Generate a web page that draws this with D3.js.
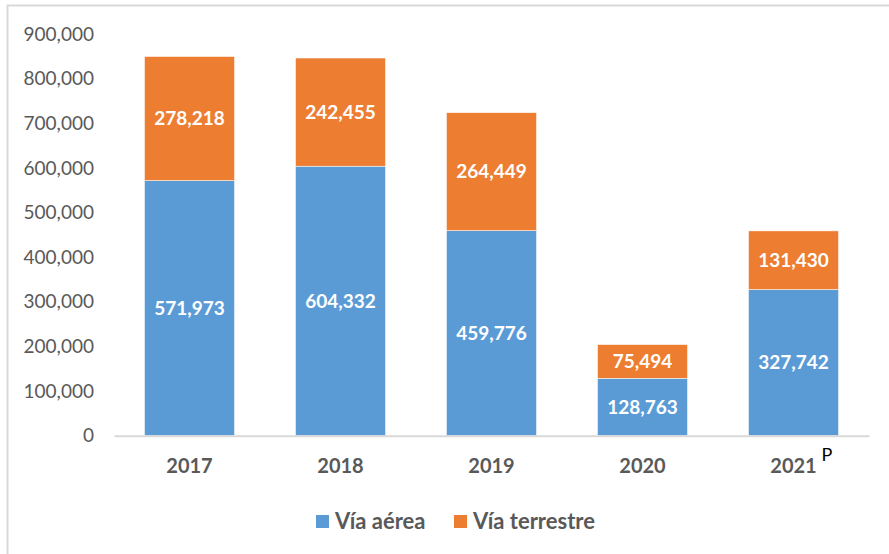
<!DOCTYPE html>
<html>
<head>
<meta charset="utf-8">
<script src="https://cdn.jsdelivr.net/npm/d3@7"></script>
<style>
  body { margin: 0; background: #fff; }
  svg { display: block; font-family: Lato, "Open Sans", sans-serif; }
</style>
</head>
<body>
<div id="chart"></div>
<script>
const years = ["2017", "2018", "2019", "2020", "2021"];
const aerea = [571973, 604332, 459776, 128763, 327742];
const terrestre = [278218, 242455, 264449, 75494, 131430];
const yTicks = [0, 100000, 200000, 300000, 400000, 500000, 600000, 700000, 800000, 900000];
const seriesNames = ["Vía aérea", "Vía terrestre"];
const colors = ["#5B9BD5", "#ED7D31"];

const w = 889, h = 554;
const margin = { top: 34.3, right: 20, bottom: 118.3, left: 114 };
const width = w - margin.left - margin.right;
const height = h - margin.top - margin.bottom;

const svgRoot = d3.select("#chart").append("svg")
  .attr("width", w)
  .attr("height", h);

// outer frame
svgRoot.append("rect")
  .attr("x", 7.5).attr("y", 5.5)
  .attr("width", w + 20).attr("height", h + 20)
  .attr("fill", "none")
  .attr("stroke", "#d9d9d9")
  .attr("stroke-width", 2);

const svg = svgRoot.append("g")
  .attr("transform", `translate(${margin.left},${margin.top})`);

const table = years.map((y, i) => ({ year: y, aerea: aerea[i], terrestre: terrestre[i] }));
const stacked = d3.stack().keys(["aerea", "terrestre"])(table);

const xSc = d3.scaleBand()
  .domain(years)
  .range([0, width])
  .paddingInner(0.404)
  .paddingOuter(0.202);

const ySc = d3.scaleLinear()
  .domain([0, 900000])
  .range([height, 0]);

// y tick labels
svg.append("g")
  .call(d3.axisLeft(ySc).tickValues(yTicks).tickSize(0).tickPadding(20)
    .tickFormat(d => d3.format(",")(d)))
  .call(g => g.select(".domain").remove())
  .call(g => g.selectAll("text")
    .attr("fill", "#595959")
    .style("font-size", "19px")
    .style("font-family", "Lato, sans-serif"));

// bars
const layers = svg.selectAll(".layer")
  .data(stacked)
  .join("g")
    .attr("class", "layer")
    .attr("fill", (d, i) => colors[i]);

layers.selectAll("rect")
  .data(d => d)
  .join("rect")
    .attr("x", d => xSc(d.data.year))
    .attr("y", d => ySc(d[1]))
    .attr("width", xSc.bandwidth())
    .attr("height", d => ySc(d[0]) - ySc(d[1]))
    .attr("stroke", "#fff")
    .attr("stroke-width", 0.5);

// data labels
layers.selectAll("text")
  .data(d => d)
  .join("text")
    .attr("x", d => xSc(d.data.year) + xSc.bandwidth() / 2)
    .attr("y", d => ySc((d[0] + d[1]) / 2))
    .attr("dy", "0.35em")
    .attr("text-anchor", "middle")
    .attr("fill", "#fff")
    .style("font-size", "19px")
    .style("font-weight", "bold")
    .text(d => d3.format(",")(d[1] - d[0]));

// x axis
svg.append("g")
  .attr("transform", `translate(0,${height})`)
  .call(d3.axisBottom(xSc).tickSize(0).tickPadding(23))
  .call(g => g.select(".domain").attr("stroke", "#d9d9d9").attr("stroke-width", 2))
  .call(g => g.selectAll("text")
    .attr("fill", "#595959")
    .style("font-size", "20px")
    .style("font-weight", "bold")
    .style("font-family", "Lato, sans-serif"));

// preliminary mark on 2021
svg.append("text")
  .attr("x", xSc("2021") + xSc.bandwidth() / 2 + 28)
  .attr("y", height + 25)
  .attr("fill", "#000")
  .style("font-size", "18px")
  .text("P");

// legend
const legend = svgRoot.append("g")
  .attr("transform", "translate(316,515)");

const items = legend.selectAll("g")
  .data(seriesNames)
  .join("g")
    .attr("transform", (d, i) => `translate(${i * 138},0)`);

items.append("rect")
  .attr("width", 13).attr("height", 13)
  .attr("fill", (d, i) => colors[i]);

items.append("text")
  .attr("x", 19)
  .attr("y", 13.5)
  .attr("fill", "#595959")
  .style("font-size", "22px")
  .style("font-weight", "bold")
  .text(d => d);
</script>
</body>
</html>
